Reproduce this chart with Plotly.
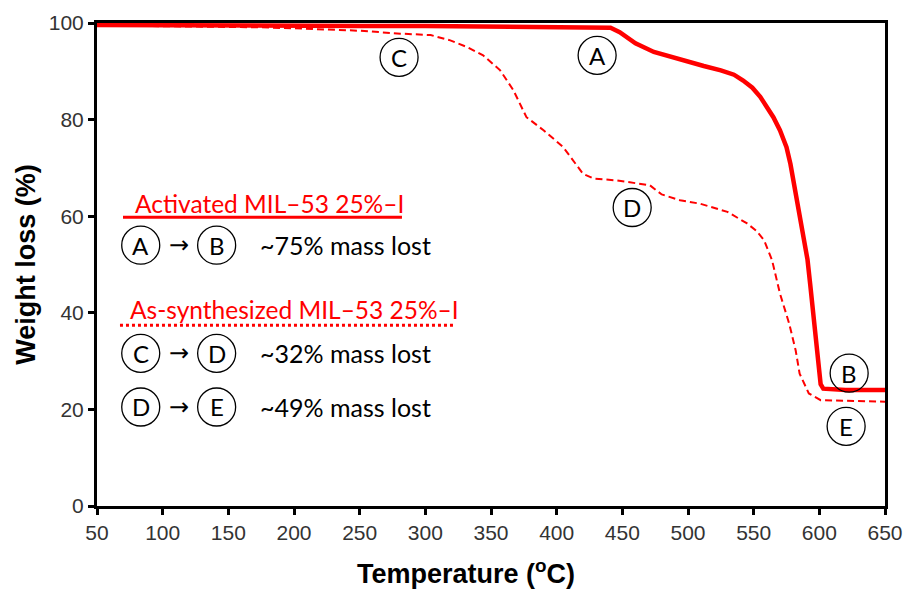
import plotly.graph_objects as go

# Activated MIL-53 25%-I
act_temp = [50, 100, 150, 200, 250, 300, 350, 400, 430, 441, 448, 460, 474, 487, 499, 512, 525,
            535, 542, 549, 555, 560, 565, 570, 575, 578, 582, 585, 588, 591, 593, 595, 597,
            599, 601, 603, 610, 620, 635, 650]
act_wt = [99.6, 99.5, 99.5, 99.4, 99.4, 99.4, 99.3, 99.3, 99.2, 99.0, 98.1, 95.8, 94.0, 93.0, 91.9,
          91.1, 90.2, 89.3, 88.1, 86.6, 84.7, 82.8, 80.5, 77.8, 74.3, 70.8, 65.0, 60.5, 56.4,
          51.0, 46.0, 40.8, 35.7, 28.5, 25.2, 24.3, 24.1, 24.0, 24.0, 24.0]

# As-synthesized MIL-53 25%-I
syn_temp = [50, 100, 150, 175, 200, 250, 281, 304, 319, 332, 344, 357, 367, 377, 390, 405, 420,
            428, 446, 471, 480, 494, 509, 530, 545, 552, 558, 564, 570, 577, 582, 585, 592,
            601, 620, 650]
syn_wt = [99.5, 99.4, 99.3, 99.1, 98.9, 98.4, 97.8, 97.5, 96.4, 95.0, 93.3, 90.2, 86.1, 80.5,
          77.8, 74.3, 68.8, 67.8, 67.4, 66.4, 64.5, 63.3, 62.6, 60.9, 58.5, 57.0, 55.0, 50.9,
          44.0, 37.8, 32.2, 27.4, 23.3, 21.9, 21.8, 21.6]

# Circled stage markers on the curves
stage_labels = ["A", "B", "C", "D", "E"]
stage_temp = [430.8, 622.7, 280.0, 457.5, 620.4]
stage_wt = [93.3, 27.5, 92.9, 61.8, 16.5]

# Key rows: (first stage, second stage, mass-loss note)
key_rows = [("A", "B", "~75% mass lost"),
            ("C", "D", "~32% mass lost"),
            ("D", "E", "~49% mass lost")]
key_titles = ["Activated MIL\u201353 25%\u2013I", "As-synthesized MIL\u201353 25%\u2013I"]

RED = "#ff0000"
TXT_FONT = "Lato"

fig = go.Figure()
fig.add_trace(go.Scatter(x=act_temp, y=act_wt, mode="lines",
                         line=dict(color=RED, width=4.5), showlegend=False))
fig.add_trace(go.Scatter(x=syn_temp, y=syn_wt, mode="lines",
                         line=dict(color=RED, width=2, dash="7px,4px"), showlegend=False))

shapes = []
annotations = []


def circled(letter, x, y):
    shapes.append(dict(type="circle", xref="x", yref="y", xsizemode="pixel", ysizemode="pixel",
                       xanchor=x, yanchor=y, x0=-19, x1=19, y0=-19, y1=19,
                       line=dict(color="black", width=1.3), fillcolor="rgba(0,0,0,0)"))
    annotations.append(dict(x=x, y=y, xref="x", yref="y", text=letter, showarrow=False,
                            font=dict(family=TXT_FONT, size=24, color="black"),
                            xanchor="center", yanchor="middle"))


for lab, tx, wy in zip(stage_labels, stage_temp, stage_wt):
    circled(lab, tx, wy)

# Key block in the lower-left
title_pos = [(77.4, 62.7), (73.6, 40.7)]
for title, (tx, wy) in zip(key_titles, title_pos):
    annotations.append(dict(x=tx, y=wy, xref="x", yref="y", text=title, showarrow=False,
                            font=dict(family=TXT_FONT, size=24.5, color=RED),
                            xanchor="left", yanchor="middle"))

shapes.append(dict(type="line", xref="x", yref="y", x0=69.8, x1=282.2, y0=59.8, y1=59.8,
                   line=dict(color=RED, width=3)))
shapes.append(dict(type="line", xref="x", yref="y", x0=67.5, x1=321.1, y0=37.4, y1=37.4,
                   line=dict(color=RED, width=3, dash="dot")))

row_y = [54.0, 31.6, 20.5]
for (a, b, note), wy in zip(key_rows, row_y):
    circled(a, 83.3, wy)
    circled(b, 141.1, wy)
    annotations.append(dict(x=112.5, y=wy, xref="x", yref="y", text="\u2192", showarrow=False,
                            font=dict(family="DejaVu Sans", size=24, color="black"),
                            xanchor="center", yanchor="middle"))
    annotations.append(dict(x=172.6, y=wy, xref="x", yref="y", text=note, showarrow=False,
                            font=dict(family=TXT_FONT, size=25, color="black"),
                            xanchor="left", yanchor="middle"))

# X-axis title, set slightly left of the plot centre
annotations.append(dict(x=0.468, y=-0.137, xref="paper", yref="paper",
                        text="<b>Temperature (<sup>o</sup>C)</b>", showarrow=False,
                        font=dict(family="Arial", size=27, color="black"),
                        xanchor="center", yanchor="middle"))

axis_common = dict(showline=True, linecolor="black", linewidth=3, mirror=True,
                   ticks="outside", ticklen=6, tickwidth=2.5, tickcolor="black",
                   showgrid=False, zeroline=False, automargin=False,
                   tickfont=dict(family="Arial", size=21, color="#333333"))

fig.update_layout(
    width=909, height=590,
    margin=dict(l=97, r=24, t=23, b=84),
    plot_bgcolor="white", paper_bgcolor="white",
    xaxis=dict(range=[50, 650], tickmode="array", tickvals=list(range(50, 651, 50)),
               **axis_common),
    yaxis=dict(range=[0, 100], tickmode="array", tickvals=list(range(0, 101, 20)),
               title=dict(text="<b>Weight loss (%)</b>", standoff=6,
                          font=dict(family="Arial", size=27, color="black")),
               **axis_common),
    shapes=shapes,
    annotations=annotations,
)

fig.write_html("out.html")
